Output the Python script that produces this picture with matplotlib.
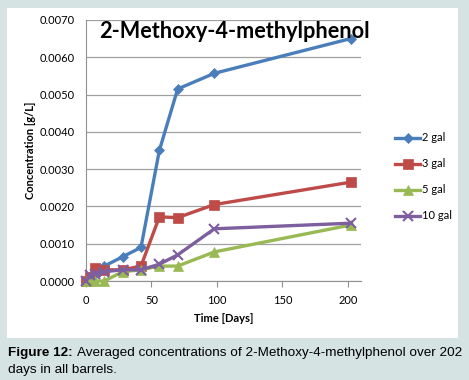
import matplotlib.pyplot as plt
from matplotlib.patches import Rectangle

# data
days = [0, 3, 7, 14, 28, 42, 56, 70, 98, 202]
gal_2 = [0.0000, 0.0001, 0.0002, 0.0004, 0.00065, 0.0009, 0.0035, 0.00515, 0.00557, 0.0065]
gal_3 = [0.0000, 0.0001, 0.00035, 0.0003, 0.0003, 0.0004, 0.00172, 0.0017, 0.00205, 0.00265]
gal_5 = [0.0000, 0.0000, 0.0000, 0.0000, 0.00025, 0.0003, 0.0004, 0.0004, 0.00078, 0.0015]
gal_10 = [0.0000, 0.00015, 0.0002, 0.00025, 0.0003, 0.0003, 0.00045, 0.0007, 0.0014, 0.00155]
labels = ['2 gal', '3 gal', '5 gal', '10 gal']
yticks = [0.0, 0.001, 0.002, 0.003, 0.004, 0.005, 0.006, 0.007]
xticks = [0, 50, 100, 150, 200]

W, H = 469, 380
fig = plt.figure(figsize=(W / 100, H / 100), dpi=100)
fig.patch.set_facecolor('#d5e3e2')

# white chart panel behind the axes
fig.patches.append(Rectangle((7 / W, 1 - 338 / H), (458 - 7) / W, (338 - 8) / H,
                             transform=fig.transFigure, facecolor='white',
                             edgecolor='none', zorder=-5))

ax = fig.add_axes([86 / W, 1 - 281 / H, (361 - 86) / W, (281 - 20) / H])
ax.set_facecolor('none')

series = [gal_2, gal_3, gal_5, gal_10]
colors = ['#4a7ebb', '#be4b48', '#98b954', '#7d5fa0']
markers = ['D', 's', '^', 'x']
msizes = [5, 7, 7, 7]
for vals, c, m, ms, lab in zip(series, colors, markers, msizes, labels):
    ax.plot(days, vals, color=c, lw=2.4, marker=m, ms=ms, mew=1.5 if m == 'x' else 0.5,
            mec=c, mfc=c, label=lab, clip_on=False, zorder=3)

ax.set_xlim(0, 210)
ax.set_ylim(0, 0.007)
ax.set_xticks(xticks)
ax.set_yticks(yticks)
ax.set_yticklabels(['%.4f' % v for v in yticks])
ax.grid(axis='y', color='#a0a0a0', lw=0.9)
ax.set_axisbelow(True)
for s in ['top', 'right']:
    ax.spines[s].set_visible(False)
for s in ['left', 'bottom']:
    ax.spines[s].set_color('#909090')
ax.tick_params(axis='y', length=0, labelsize=8, pad=8)
ax.tick_params(axis='x', length=4, color='#909090', direction='out', labelsize=8, pad=6)
for t in ax.get_xticklabels() + ax.get_yticklabels():
    t.set_family('Lato')

ax.set_xlabel('Time [Days]', family='Lato', fontweight='bold', fontsize=8, labelpad=5)
ax.set_ylabel('Concentration [g/L]', family='Lato', fontweight='bold', fontsize=8, labelpad=3)

fig.text(99 / W, 1 - 31 / H, '2-Methoxy-4-methylphenol', family='Lato', fontweight='bold',
         fontsize=15.6, va='center', ha='left')

ax.legend(loc='upper left', bbox_to_anchor=(391 / W, 1 - 128 / H), bbox_transform=fig.transFigure,
          frameon=False, prop={'family': 'Lato', 'size': 8}, handlelength=2.2,
          handletextpad=0.2, labelspacing=1.35, borderaxespad=0)

# caption: bold lead-in, then normal text placed right after it
r = fig.canvas.get_renderer()
lead = fig.text(8 / W, 1 - 353 / H, 'Figure 12:', fontsize=9.7, va='center',
                family='Liberation Sans', fontweight='bold')
bb = lead.get_window_extent(r)
fig.text(bb.x1 / W + 4 / W, 1 - 353 / H, 'Averaged concentrations of 2-Methoxy-4-methylphenol over 202',
         family='Liberation Sans', fontsize=9.7, va='center')
fig.text(8 / W, 1 - 370 / H, 'days in all barrels.', family='Liberation Sans', fontsize=9.7, va='center')

fig.savefig('out.png', dpi=100, facecolor=fig.get_facecolor())
